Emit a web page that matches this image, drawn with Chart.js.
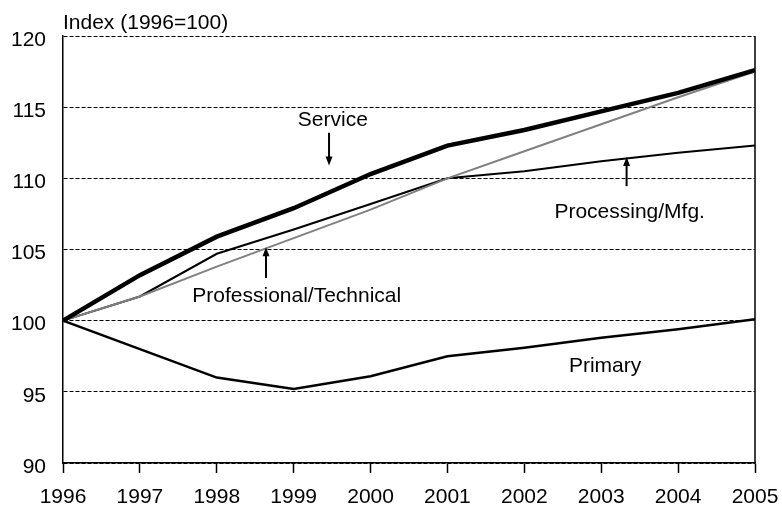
<!DOCTYPE html>
<html>
<head>
<meta charset="utf-8">
<script src="https://cdn.jsdelivr.net/npm/chart.js@4/dist/chart.umd.min.js"></script>
<style>
  body { margin: 0; background: #fff; }
</style>
</head>
<body>
<canvas id="chart" width="782" height="506"></canvas>
<script>
// data
const years = ['1996', '1997', '1998', '1999', '2000', '2001', '2002', '2003', '2004', '2005'];
const service = [100, 103.2, 105.9, 107.9, 110.3, 112.3, 113.4, 114.7, 116.0, 117.6];
const processing = [100, 101.7, 104.7, 106.4, 108.2, 110.0, 110.5, 111.2, 111.8, 112.3];
const professional = [100, 101.7, 103.8, 105.8, 107.8, 110.0, 111.9, 113.8, 115.7, 117.5];
const primary = [100, 98.0, 96.0, 95.2, 96.1, 97.5, 98.1, 98.8, 99.4, 100.1];
const yTicks = [90, 95, 100, 105, 110, 115, 120];
const yTitle = 'Index (1996=100)';

const FONT = 'Arial, "Liberation Sans", sans-serif';

// labels and arrows, placed in data units (x = category index)
const notes = [
  { text: 'Service', x: 3.51, y: 114.1, arrow: [3.46, 113.2, 110.9] },
  { text: 'Professional/Technical', x: 3.04, y: 101.7, arrow: [2.64, 103.0, 105.15] },
  { text: 'Processing/Mfg.', x: 7.37, y: 107.6, arrow: [7.33, 109.45, 111.5] },
  { text: 'Primary', x: 7.05, y: 96.8 }
];

const notesPlugin = {
  id: 'notes',
  afterDatasetsDraw(chart) {
    const { ctx, chartArea, scales } = chart;
    const xs = scales.x, ys = scales.y;
    const px = v => xs.left + (xs.right - xs.left) * v / (years.length - 1);
    ctx.save();

    // right frame line
    ctx.strokeStyle = '#000';
    ctx.lineWidth = 1.5;
    ctx.beginPath();
    ctx.moveTo(chartArea.right, chartArea.top);
    ctx.lineTo(chartArea.right, chartArea.bottom);
    ctx.stroke();

    ctx.font = '21px ' + FONT;
    ctx.fillStyle = '#000';
    ctx.textAlign = 'center';
    ctx.textBaseline = 'middle';
    notes.forEach(n => {
      ctx.fillText(n.text, px(n.x), ys.getPixelForValue(n.y));
      if (!n.arrow) return;
      const ax = px(n.arrow[0]);
      const y0 = ys.getPixelForValue(n.arrow[1]);
      const y1 = ys.getPixelForValue(n.arrow[2]);
      const dir = y1 > y0 ? 1 : -1;
      ctx.lineWidth = 2;
      ctx.beginPath();
      ctx.moveTo(ax, y0);
      ctx.lineTo(ax, y1 - dir * 4);
      ctx.stroke();
      ctx.beginPath();
      ctx.moveTo(ax, y1);
      ctx.lineTo(ax - 3.5, y1 - dir * 9);
      ctx.lineTo(ax + 3.5, y1 - dir * 9);
      ctx.closePath();
      ctx.fill();
    });

    // axis title above the plot
    ctx.textAlign = 'left';
    ctx.textBaseline = 'alphabetic';
    ctx.font = '21px ' + FONT;
    ctx.fillText(yTitle, chartArea.left, 29);
    ctx.restore();
  }
};

const line = (label, data, color, width) => ({
  label, data,
  borderColor: color,
  borderWidth: width,
  pointRadius: 0,
  tension: 0,
  fill: false
});

new Chart(document.getElementById('chart'), {
  type: 'line',
  data: {
    labels: years,
    datasets: [
      line('Service', service, '#000', 4.5),
      line('Professional/Technical', professional, '#808080', 2),
      line('Processing/Mfg.', processing, '#000', 2),
      line('Primary', primary, '#000', 2.5)
    ]
  },
  options: {
    responsive: false,
    animation: false,
    layout: { padding: { top: 36, right: 27, bottom: 0, left: 0 } },
    plugins: { legend: { display: false }, tooltip: { enabled: false } },
    scales: {
      x: {
        offset: false,
        afterFit(s) { s.height = 43; s.paddingLeft = 0; s.paddingRight = 0; },
        grid: { drawOnChartArea: false, drawTicks: true, tickLength: 10, tickColor: '#000', tickWidth: 1.5 },
        border: { color: '#000', width: 1.5 },
        ticks: { color: '#000', font: { family: FONT, size: 21 }, padding: 12, maxRotation: 0, autoSkip: false }
      },
      y: {
        min: 90,
        max: 120,
        afterFit(s) { s.width = 63; },
        afterBuildTicks(s) { s.ticks = yTicks.map(v => ({ value: v })); },
        grid: { color: '#000', lineWidth: 1, drawTicks: false },
        border: { color: '#000', width: 1.5, dash: [4, 2] },
        ticks: { color: '#000', font: { family: FONT, size: 21 }, padding: 17, labelOffset: 4 }
      }
    }
  },
  plugins: [notesPlugin]
});
</script>
</body>
</html>
